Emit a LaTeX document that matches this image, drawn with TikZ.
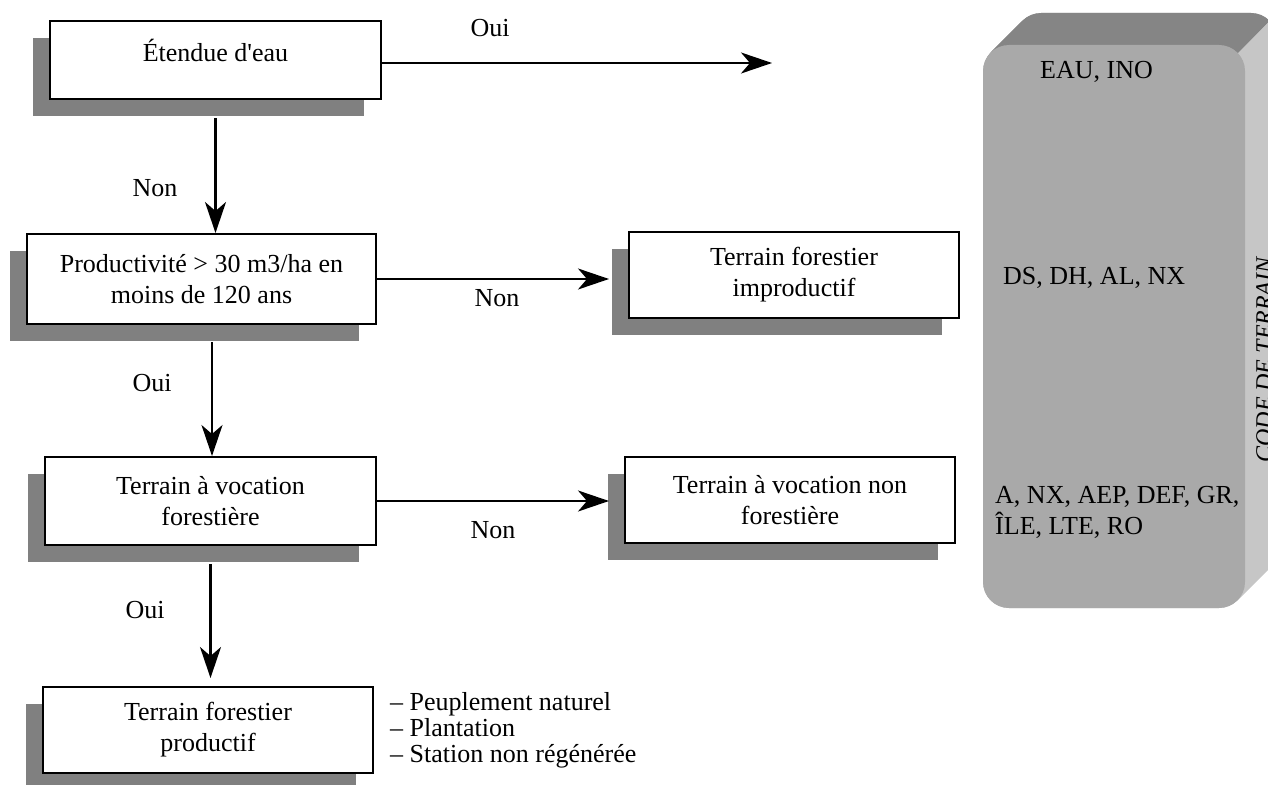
\documentclass[tikz,border=0pt]{standalone}
\usepackage{fontspec}
\setmainfont{Liberation Serif}[Ligatures=TeXOff]
\usetikzlibrary{arrows.meta,shadows}
\definecolor{shadowc}{HTML}{808080}
\definecolor{frontc}{HTML}{A9A9A9}
\definecolor{topc}{HTML}{858585}
\definecolor{sidec}{HTML}{C6C6C6}
\begin{document}
\begin{tikzpicture}[x=1pt,y=-1pt,
  font=\fontsize{26}{31}\selectfont,
  box/.style={draw=black, line width=2pt, fill=white, rectangle, inner sep=0pt, align=center,
    general shadow={fill=shadowc, shadow xshift=-17pt, shadow yshift=-17pt}},
  arr/.style={line width=2.2pt, -{Stealth[length=31pt,width=21pt,inset=9pt]}},
  lbl/.style={inner sep=0pt},
  listtxt/.style={font=\fontsize{26}{26}\selectfont},
  slab/.style={rounded corners=26pt},
]
\useasboundingbox (0,0) rectangle (1268,784);
\clip (0,0) rectangle (1268,784);

% 3D block on the right
\foreach \t in {0,1,...,32} { \fill[sidec, slab] (983+\t,45-\t) rectangle (1245+\t,608-\t); }
\begin{scope}
  \clip (0,0) -- (1290,0) -- (0,1290) -- cycle;
  \foreach \t in {1,2,...,32} { \fill[topc, slab] (983+\t,45-\t) rectangle (1245+\t,608-\t); }
\end{scope}
\fill[frontc, slab] (983,45) rectangle (1245,608);

\node[lbl, anchor=west] (c1) at (1040,72) {EAU, INO};
\node[lbl, anchor=west] (c2) at (1003,278) {DS, DH, AL, NX};
\node[lbl, anchor=west, align=left] (c3) at (995,512) {A, NX, AEP, DEF, GR,\\ÎLE, LTE, RO};
\node[lbl, rotate=90, anchor=base, font=\fontsize{24}{28}\selectfont\itshape] (ct) at (1272,360) {CODE DE TERRAIN};

% boxes
\node[box, minimum width=331pt, minimum height=78pt] (b1) at (215.5,60) {};
\node[lbl] (t1) at (215.5,50) {Étendue d'eau};
\node[box, minimum width=349pt, minimum height=90pt] (b2) at (201.5,279) {Productivité > 30 m3/ha en\\moins de 120 ans};
\node[box, minimum width=331pt, minimum height=88pt] (b3) at (210.5,501) {Terrain à vocation\\forestière};
\node[box, minimum width=330pt, minimum height=86pt] (b4) at (208,730) {Terrain forestier\\productif};
\node[box, minimum width=330pt, minimum height=86pt] (b5) at (794,275) {Terrain forestier\\improductif};
\node[box, minimum width=330pt, minimum height=86pt] (b6) at (790,500) {Terrain à vocation non\\forestière};

% connectors
\coordinate (e1) at (772,63);
\draw[arr] ([yshift=-3pt]b1.east) -- (e1);
\coordinate (a1s) at ([yshift=-18pt]b1.south);
\draw[arr] (a1s) -- (a1s |- b2.north);
\coordinate (a2s) at ([xshift=10.5pt,yshift=-17pt]b2.south);
\draw[arr] (a2s) -- (a2s |- b3.north);
\coordinate (a3s) at ([yshift=-18pt]b3.south);
\coordinate (a3e) at ([yshift=8pt]b4.north);
\draw[arr] (a3s) -- (a3s |- a3e);
\coordinate (h2e) at ([xshift=-19pt]b5.west);
\draw[arr] (b2.east) -- (h2e |- b2.east);
\coordinate (h3e) at ([xshift=-15pt]b6.west);
\draw[arr] (b3.east) -- (h3e |- b3.east);

% labels
\node[lbl] (l1) at (490,28) {Oui};
\node[lbl] (l2) at (155,188) {Non};
\node[lbl] (l3) at (497,298) {Non};
\node[lbl] (l4) at (152,383) {Oui};
\node[lbl] (l5) at (493,530) {Non};
\node[lbl] (l6) at (145,610) {Oui};

\node[lbl, listtxt, anchor=north west, align=left] (lst) at (390,692) {– Peuplement naturel\\– Plantation\\– Station non régénérée};
\end{tikzpicture}
\end{document}
